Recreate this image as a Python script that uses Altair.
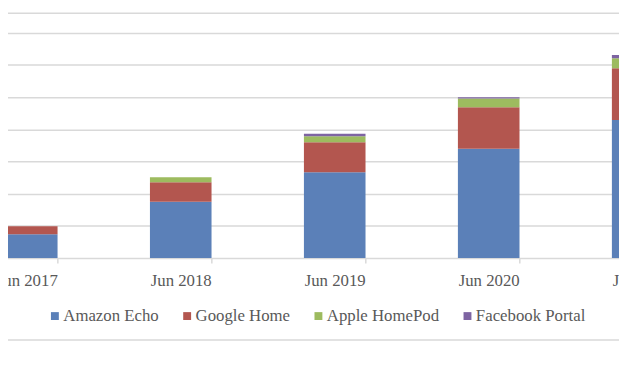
import altair as alt
import pandas as pd

categories = ["Jun 2017", "Jun 2018", "Jun 2019", "Jun 2020", "Jun 2021"]
series = ["Amazon Echo", "Google Home", "Apple HomePod", "Facebook Portal"]
amazon = [7.4, 17.5, 26.7, 34.0, 42.9]
google = [2.5, 6.1, 9.3, 12.9, 16.1]
apple = [0.0, 1.5, 1.9, 2.7, 3.1]
facebook = [0.0, 0.0, 0.7, 0.4, 1.0]
colors = ["#5B80B8", "#B3564F", "#9DBB5F", "#7E64A2"]
grid_values = [10, 20, 30, 40, 50, 60, 70]

rows = []
for s_i, (name, vals) in enumerate(zip(series, [amazon, google, apple, facebook])):
    for c, v in zip(categories, vals):
        rows.append({"period": c, "device": name, "value": v, "order": s_i})
df = pd.DataFrame(rows)

FONT = "Liberation Serif"
GRAY = "#595959"
LINE = "#D9D9D9"

bars = alt.Chart(df).mark_bar(clip=True).encode(
    x=alt.X(
        "period:N",
        sort=categories,
        title=None,
        scale=alt.Scale(range=[-59, 721], paddingInner=0.6, paddingOuter=0.3),
        axis=alt.Axis(
            labelAngle=0, labelFont=FONT, labelFontSize=17, labelColor=GRAY,
            domainColor=LINE, domainWidth=1.5, tickColor=LINE, tickWidth=1.5,
            tickSize=5, tickBand="extent", labelPadding=10, grid=False,
        ),
    ),
    y=alt.Y(
        "value:Q",
        stack="zero",
        title=None,
        scale=alt.Scale(domain=[0, 80], range=[251, -9.8], nice=False),
        axis=alt.Axis(
            values=grid_values, labels=False, ticks=False, domain=False,
            grid=True, gridColor=LINE, gridWidth=1.5,
        ),
    ),
    color=alt.Color(
        "device:N",
        scale=alt.Scale(domain=series, range=colors),
        legend=alt.Legend(
            orient="none", legendX=39, legendY=301, direction="horizontal",
            title=None, symbolType="square", symbolSize=64, symbolStrokeWidth=0,
            labelFont=FONT, labelFontSize=17, labelColor=GRAY,
            columnPadding=20, labelOffset=0, padding=0,
        ),
    ),
    order=alt.Order("order:Q", sort="ascending"),
)

one = pd.DataFrame({"k": [0]})
top_line = alt.Chart(one).mark_rule(color=LINE, strokeWidth=1.5).encode(
    x=alt.value(0), x2=alt.value(619), y=alt.value(3)
)
bottom_line = alt.Chart(one).mark_rule(color=LINE, strokeWidth=1.5).encode(
    x=alt.value(0), x2=alt.value(619), y=alt.value(334)
)

chart = alt.layer(top_line, bottom_line, bars).properties(
    width=619, height=251,
    autosize=alt.AutoSizeParams(type="none"),
    padding={"left": 0, "top": 0, "right": 0, "bottom": 109},
).configure_view(stroke=None)

chart.save("out.html", embed_options={"renderer": "svg", "actions": False})
